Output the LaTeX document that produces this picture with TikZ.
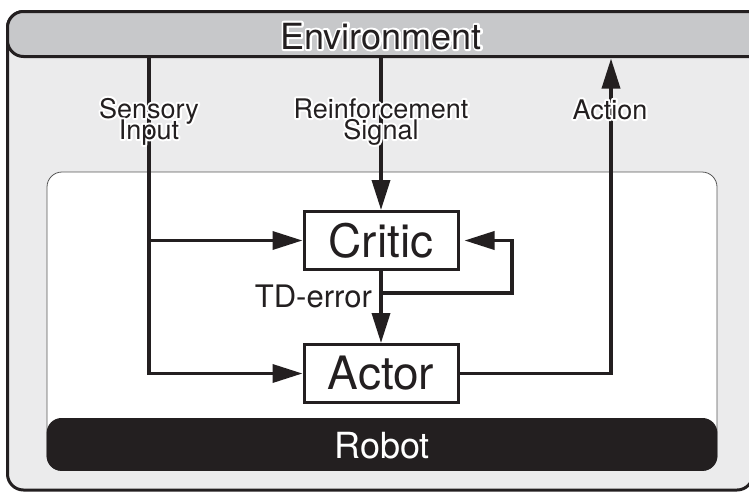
\documentclass[tikz,border=0pt]{standalone}
\usepackage{fontspec}
\setmainfont{TeX Gyre Heros}
\usetikzlibrary{arrows.meta,calc}
\definecolor{ink}{HTML}{231F20}
\definecolor{envgray}{HTML}{C7C8CA}
\definecolor{bggray}{HTML}{EBEBEC}
\definecolor{rimgray}{HTML}{555555}

% text with a white outline behind it: a stroked white copy, then the ink copy
\newcommand\halotext[1]{\leavevmode
  \rlap{\special{pdf:literal direct 2 Tr 4 w 1 j}\textcolor{white}{#1}%
        \special{pdf:literal direct 0 Tr}}#1}
% keep a fixed baseline distance in stacked labels
\newcommand\tightlines{\lineskiplimit=-60pt\relax}

\begin{document}
\begin{tikzpicture}[x=1pt,y=-1pt,
  frame/.style={draw=ink, line width=3pt},
  block/.style={draw=ink, line width=3pt, fill=white, minimum width=154pt,
    minimum height=58pt, inner sep=0pt, text=ink,
    font=\fontsize{46}{46}\selectfont},
  conn/.style={draw=ink, line width=3.6pt, -{Triangle[length=30pt,width=18pt]}},
  flowlabel/.style={font=\fontsize{27}{21}\selectfont\tightlines,
    align=center, inner sep=0pt, text=ink},
]
\useasboundingbox (0,0) rectangle (749,493);
\clip (0,0) rectangle (749,493);

% outer world frame
\draw[frame, fill=bggray, rounded corners=16pt] (7.5,11.5) rectangle (753,490);
% environment bar
\draw[frame, fill=envgray, rounded corners=16pt] (7.5,11.5) rectangle (775,56.5);
\node[font=\fontsize{36}{36}\selectfont, anchor=base, inner sep=0pt, text=ink]
  (env) at (381,49) {\halotext{Environment}};

% robot body
\draw[draw=rimgray, line width=0.8pt, fill=white, rounded corners=15pt]
  (47,172) rectangle (717,470.5);
\fill[ink, rounded corners=15pt] (46.6,418) rectangle (717.4,470.9);
\node[font=\fontsize{36}{36}\selectfont, anchor=base, inner sep=0pt, text=white]
  (robot) at (382,458) {Robot};

% critic and actor
\node[block] (critic) at (381,240.5) {Critic};
\node[block] (actor) at (381,373.5) {Actor};

% connector anchors
\coordinate (sensIn) at (149,57);
\coordinate (reinIn) at (381,57);
\coordinate (actOut) at (611,58.5);
\coordinate (tdSplit) at (381,293);
\coordinate (loopTop) at (512,240.5);

% signal flow
\draw[conn] (sensIn) |- (actor.west);
\draw[conn] (sensIn |- critic.west) -- (critic.west);
\draw[conn] (reinIn) -- (critic.north);
\draw[conn] (critic.south) -- (actor.north);
\draw[conn, shorten >=5pt] (critic.south |- tdSplit) -| (loopTop) -- (critic.east);
\draw[conn] (actor.east) -| (actOut);

% labels
\node[flowlabel, anchor=base] (lsens) at (149,139)
  {\halotext{Sensory}\\\halotext{Input}};
\node[flowlabel, anchor=base] (lrein) at (381,139)
  {\halotext{Reinforcement}\\\halotext{Signal}};
\node[flowlabel, anchor=base] (lact) at (610,119) {\halotext{Action}};
\node[font=\fontsize{31}{31}\selectfont, anchor=base east, inner sep=0pt, text=ink]
  (ltd) at (372,307) {TD-error};
\end{tikzpicture}
\end{document}
